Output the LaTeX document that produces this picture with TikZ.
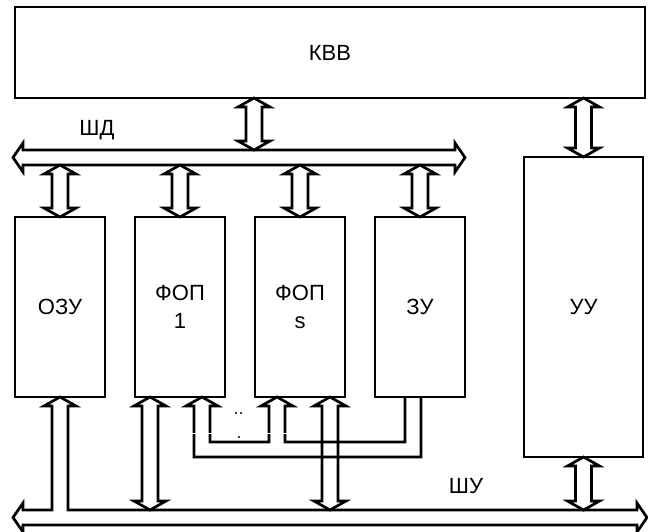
\documentclass[tikz,border=0pt]{standalone}
\usepackage{fontspec}
\setmainfont{Liberation Sans}
\usetikzlibrary{calc,positioning}

\newcommand\vdarrow[2]{%
  \draw[tube] let \p1=#1, \p2=#2 in
    (\x1,\y1) -- (\x1-16pt,\y1-9pt) -- (\x1-8pt,\y1-9pt) -- (\x1-8pt,\y2+9pt)
    -- (\x1-16pt,\y2+9pt) -- (\x1,\y2) -- (\x1+16pt,\y2+9pt) -- (\x1+8pt,\y2+9pt)
    -- (\x1+8pt,\y1-9pt) -- (\x1+16pt,\y1-9pt) -- cycle;}

\begin{document}
\begin{tikzpicture}[x=1pt,y=-1pt,
  node distance=30pt,
  block/.style={draw, line width=2.7pt, outer sep=0pt, inner sep=0pt, minimum width=90pt, minimum height=180pt, align=center, font=\fontsize{22}{28}\selectfont},
  busbody/.style={inner sep=0pt, outer sep=0pt, minimum height=15pt},
  tube/.style={line width=2.7pt, line join=miter},
  lbl/.style={font=\fontsize{22}{28}\selectfont}
]
  \useasboundingbox (0,0) rectangle (648,531);

  \node[block, minimum width=630pt, minimum height=91pt] (kvv) at (330,52.5) {КВВ};
  \node[block] (ozu) at (60,307) {ОЗУ};
  \node[block, right=of ozu] (fop1) {ФОП\\1};
  \node[block, right=of fop1] (fops) {ФОП\\s};
  \node[block, right=of fops] (zu) {ЗУ};
  \node[block, minimum width=119pt, minimum height=300pt] (uu) at (583.5,307) {УУ};

  \node[busbody, minimum width=432pt] (shd) at (239,157.5) {};
  \node[busbody, minimum width=614pt] (shu) at (330,517.5) {};
  \node[lbl] (shdlbl) at (97,130) {ШД};
  \node[lbl] (shulbl) at (466,486) {ШУ};

  \draw[tube] ($(shd.west)+(-10,0)$) -- ($(shd.north west)+(0,-7)$) -- (shd.north west)
    -- (shd.north east) -- ($(shd.north east)+(0,-7)$) -- ($(shd.east)+(10,0)$)
    -- ($(shd.south east)+(0,7)$) -- (shd.south east) -- (shd.south west)
    -- ($(shd.south west)+(0,7)$) -- cycle;

  \draw[tube] ($(shu.west)+(-10,0)$) -- ($(shu.north west)+(0,-7)$) -- (shu.north west)
    -- ($(shu.north -| ozu.south)+(-8,0)$) -- ($(ozu.south)+(-8,9)$) -- ($(ozu.south)+(-16,9)$)
    -- (ozu.south) -- ($(ozu.south)+(16,9)$) -- ($(ozu.south)+(8,9)$)
    -- ($(shu.north -| ozu.south)+(8,0)$) -- (shu.north east) -- ($(shu.north east)+(0,-7)$)
    -- ($(shu.east)+(10,0)$) -- ($(shu.south east)+(0,7)$) -- (shu.south east)
    -- (shu.south west) -- ($(shu.south west)+(0,7)$) -- cycle;

  \vdarrow{($(kvv.south)+(-76,0)$)}{(shd.north)}
  \foreach \b in {ozu,fop1,fops,zu} {\vdarrow{(shd.south -| \b.north)}{(\b.north)}}
  \vdarrow{(kvv.south -| uu.north)}{(uu.north)}
  \vdarrow{(uu.south)}{(shu.north)}
  \vdarrow{($(fop1.south)+(-30,0)$)}{(shu.north)}
  \vdarrow{($(fops.south)+(30,0)$)}{(shu.north)}

  \coordinate (t1) at ($(fop1.south)+(22,0)$);
  \coordinate (t2) at ($(fops.south)+(-23,0)$);
  \coordinate (t3) at ($(zu.south)+(-7,0)$);
  \draw[tube] ($(t3)+(-8,0)$) -- ($(t3)+(-8,45)$) -- ($(t2)+(8,45)$) -- ($(t2)+(8,9)$)
    -- ($(t2)+(16,9)$) -- (t2) -- ($(t2)+(-16,9)$) -- ($(t2)+(-8,9)$) -- ($(t2)+(-8,45)$)
    -- ($(t1)+(8,45)$) -- ($(t1)+(8,9)$) -- ($(t1)+(16,9)$) -- (t1) -- ($(t1)+(-16,9)$)
    -- ($(t1)+(-8,9)$) -- ($(t1)+(-8,60)$) -- ($(t3)+(8,60)$) -- ($(t3)+(8,0)$);

  \fill[white] ($(t1)+(-12,35.5)$) rectangle ($(t2)+(12,37)$);
  \fill (236,413) circle (1.2pt) (241,413) circle (1.2pt) (239,437) circle (1.2pt);
\end{tikzpicture}
\end{document}
